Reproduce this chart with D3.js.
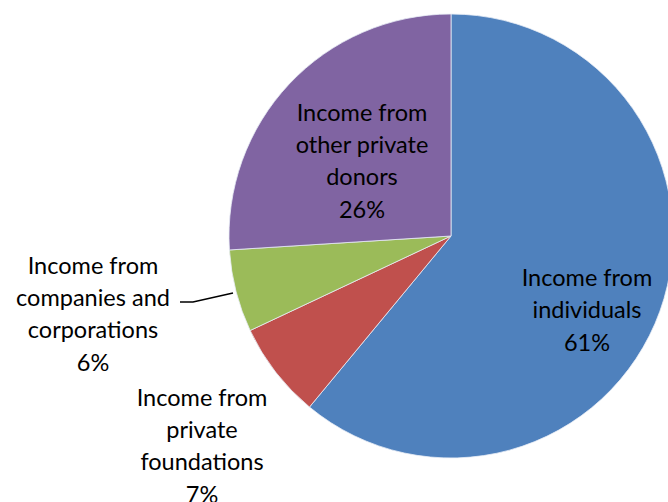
<!DOCTYPE html>
<html><head><meta charset="utf-8">
<script src="https://cdn.jsdelivr.net/npm/d3@7"></script>
<style>body{margin:0;background:#fff}svg{display:block}text{font-family:Lato,"Open Sans",sans-serif;fill:#000}</style>
</head><body><svg id="c" width="668" height="502"></svg>
<script>
const categories = ["Income from individuals", "Income from private foundations", "Income from companies and corporations", "Income from other private donors"];
const values = [61, 7, 6, 26];
const labelLines = [["Income from","individuals","61%"],["Income from","private","foundations","7%"],["Income from","companies and","corporations","6%"],["Income from","other private","donors","26%"]];
const colors = ["#4F81BD","#C0504D","#9BBB59","#8064A2"];

const svg = d3.select("#c");
const cx = 451, cy = 236, R = 222;
const g = svg.append("g").attr("transform",`translate(${cx},${cy})`);
const pie = d3.pie().sort(null).value(d=>d)(values);
const arc = d3.arc().innerRadius(0).outerRadius(R);
g.selectAll("path").data(pie).join("path").attr("d",arc).attr("fill",(d,i)=>colors[i]).attr("stroke","#e8eef6").attr("stroke-width",0.8);

// label layout (offsets from pie center)
const labelPos = [[136,74],[-249,210],[-358,78],[-89,-75]];
const lh = 32.3;
labelLines.forEach((lines,i)=>{
  const [dx,dy]=labelPos[i];
  const t = g.append("text").attr("text-anchor","middle").attr("font-size",23.5);
  lines.forEach((l,j)=>{
    t.append("tspan").attr("x",dx).attr("y",dy+(j-(lines.length-1)/2)*lh).attr("dy","0.35em").text(l);
  });
});
// leader line for companies
g.append("path").attr("d",`M${-271},${66} L${-258},${66} L${-218},${57}`).attr("fill","none").attr("stroke","#000").attr("stroke-width",1.5);
</script></body></html>
